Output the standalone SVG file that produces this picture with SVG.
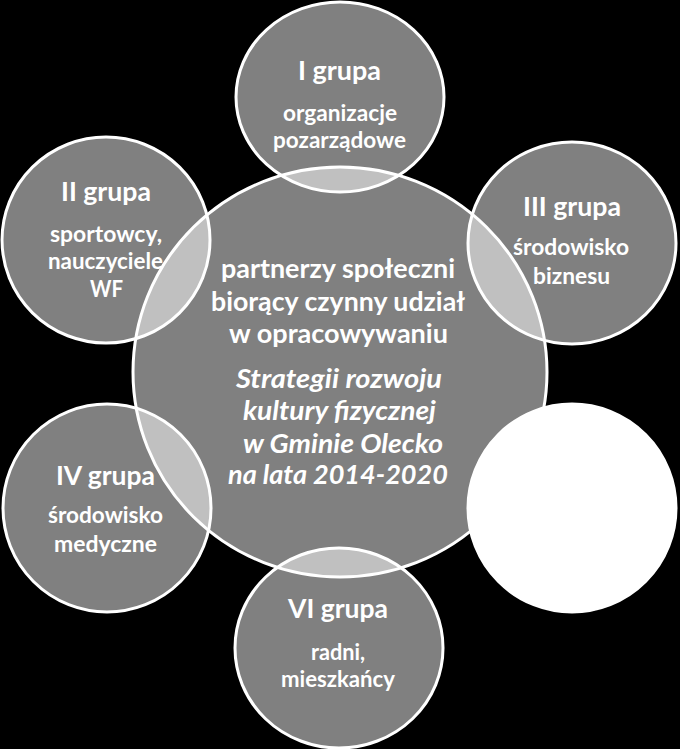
<svg xmlns="http://www.w3.org/2000/svg" width="680" height="749" viewBox="0 0 680 749">
<style>
.c{fill:#ffffff;fill-opacity:0.5;stroke:#ffffff;stroke-width:3}
.w{fill:#ffffff;stroke:#ffffff;stroke-width:3}
text{font-family:Lato,"Open Sans","Liberation Sans",sans-serif;font-weight:bold;fill:#ffffff;text-anchor:middle}
.t{font-size:27px}
.s{font-size:23px}
.m{font-size:27px}
.i{font-size:27px;font-style:italic}
</style>
<rect x="0" y="0" width="680" height="749" fill="#000000"/>
<g id="connectors"></g>
<g id="node-center">
<ellipse class="c" cx="340" cy="372" rx="207" ry="205"/>
</g>
<g id="node-1">
<ellipse class="c" cx="340" cy="97" rx="104" ry="95"/>
</g>
<g id="node-2">
<ellipse class="c" cx="106" cy="240" rx="104" ry="103"/>
</g>
<g id="node-3">
<ellipse class="c" cx="572" cy="243" rx="104" ry="101"/>
</g>
<g id="node-4">
<ellipse class="c" cx="107" cy="508" rx="104" ry="104"/>
</g>
<g id="node-6">
<ellipse class="c" cx="339" cy="648" rx="104" ry="100"/>
</g>
<g id="labels">
<text class="t" x="339.5" y="80" textLength="83" lengthAdjust="spacingAndGlyphs">I grupa</text>
<text class="s" x="340" y="121" textLength="114" lengthAdjust="spacingAndGlyphs">organizacje</text>
<text class="s" x="339.5" y="148" textLength="133" lengthAdjust="spacingAndGlyphs">pozarządowe</text>

<text class="t" x="106" y="201" textLength="90" lengthAdjust="spacingAndGlyphs">II grupa</text>
<text class="s" x="106" y="242" textLength="112" lengthAdjust="spacingAndGlyphs">sportowcy,</text>
<text class="s" x="105.5" y="269" textLength="115" lengthAdjust="spacingAndGlyphs">nauczyciele</text>
<text class="s" x="106.5" y="296.5" textLength="33" lengthAdjust="spacingAndGlyphs">WF</text>

<text class="t" x="572" y="216" textLength="98" lengthAdjust="spacingAndGlyphs">III grupa</text>
<text class="s" x="571" y="255" textLength="116" lengthAdjust="spacingAndGlyphs">środowisko</text>
<text class="s" x="571.5" y="284" textLength="77" lengthAdjust="spacingAndGlyphs">biznesu</text>

<text class="t" x="105.5" y="485" textLength="99" lengthAdjust="spacingAndGlyphs">IV grupa</text>
<text class="s" x="105.5" y="523" textLength="115" lengthAdjust="spacingAndGlyphs">środowisko</text>
<text class="s" x="105.5" y="552" textLength="103" lengthAdjust="spacingAndGlyphs">medyczne</text>

<text class="t" x="338" y="618" textLength="100" lengthAdjust="spacingAndGlyphs">VI grupa</text>
<text class="s" x="338" y="660" textLength="54" lengthAdjust="spacingAndGlyphs">radni,</text>
<text class="s" x="338" y="687" textLength="114" lengthAdjust="spacingAndGlyphs">mieszkańcy</text>

<text class="m" x="338" y="278" textLength="234" lengthAdjust="spacingAndGlyphs">partnerzy społeczni</text>
<text class="m" x="338" y="311" textLength="254" lengthAdjust="spacingAndGlyphs">biorący czynny udział</text>
<text class="m" x="338.5" y="343" textLength="219" lengthAdjust="spacingAndGlyphs">w opracowywaniu</text>
<text class="i" x="339" y="388" textLength="206" lengthAdjust="spacingAndGlyphs">Strategii rozwoju</text>
<text class="i" x="339.5" y="420" textLength="193" lengthAdjust="spacingAndGlyphs">kultury fizycznej</text>
<text class="i" x="343" y="453" textLength="200" lengthAdjust="spacingAndGlyphs">w Gminie Olecko</text>
<text class="i" x="338" y="484" textLength="220" lengthAdjust="spacingAndGlyphs">na lata 2014-2020</text>
</g>
<g id="node-5">
<ellipse class="w" cx="572" cy="508" rx="104" ry="104"/>
</g>
</svg>
